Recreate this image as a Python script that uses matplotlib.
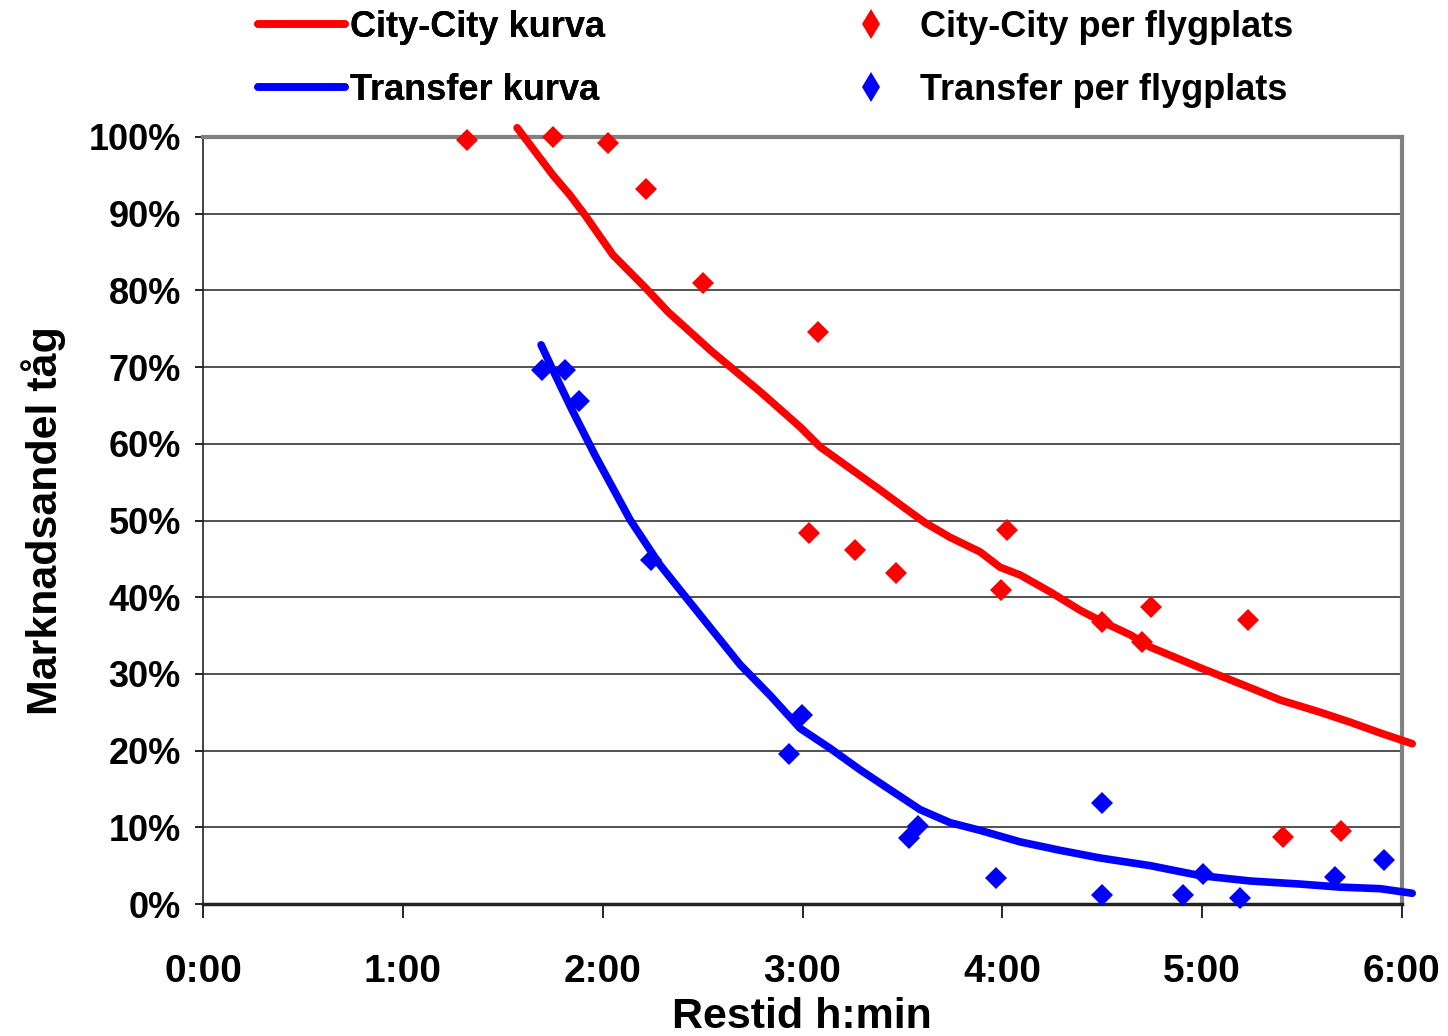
import matplotlib.pyplot as plt
from matplotlib.ticker import FuncFormatter, MultipleLocator
from matplotlib.lines import Line2D

plt.rcParams['font.family'] = ['Liberation Sans', 'DejaVu Sans']
plt.rcParams['font.weight'] = 'bold'
plt.rcParams['axes.labelweight'] = 'bold'

# restid i timmar, marknadsandel i procent
cc_kurva_x = [1.572, 1.752, 1.837, 1.912, 2.052, 2.212, 2.327, 2.548, 2.788, 2.988,
              3.088, 3.388, 3.513, 3.614, 3.739, 3.889, 3.989, 4.089, 4.239, 4.389,
              4.500, 4.640, 4.740, 4.990, 5.240, 5.390, 5.591, 5.741, 5.891, 6.051]
cc_kurva_y = [101.2, 95.0, 92.4, 89.8, 84.6, 80.4, 77.2, 72.0, 66.8, 62.2,
              59.6, 54.0, 51.6, 49.7, 47.8, 45.9, 43.9, 42.9, 40.7, 38.3,
              36.8, 35.1, 33.5, 30.8, 28.2, 26.6, 25.0, 23.7, 22.3, 20.9]

tr_kurva_x = [1.692, 1.762, 1.847, 1.962, 2.137, 2.287, 2.487, 2.688, 2.838, 2.988,
              3.138, 3.288, 3.438, 3.589, 3.739, 3.889, 4.089, 4.289, 4.489, 4.740,
              4.990, 5.240, 5.490, 5.691, 5.891, 6.051]
tr_kurva_y = [72.9, 69.0, 64.4, 58.5, 50.1, 44.2, 37.7, 31.2, 27.2, 22.9,
              20.3, 17.5, 14.9, 12.3, 10.6, 9.6, 8.1, 7.0, 6.0, 5.0,
              3.7, 3.0, 2.6, 2.2, 2.0, 1.4]

cc_punkt_x = [1.321, 1.752, 2.027, 2.217, 2.503, 3.078, 3.033, 3.263, 3.468, 4.024,
              3.994, 4.500, 4.745, 4.700, 5.230, 5.405, 5.696]
cc_punkt_y = [99.6, 100.0, 99.2, 93.2, 81.0, 74.6, 48.4, 46.2, 43.2, 48.8,
              40.9, 36.8, 38.7, 34.2, 37.0, 8.7, 9.5]

tr_punkt_x = [1.697, 1.812, 1.882, 2.242, 2.998, 2.933, 3.534, 3.579, 3.969, 4.500,
              4.500, 4.905, 5.005, 5.190, 5.666, 5.911]
tr_punkt_y = [69.6, 69.6, 65.6, 44.9, 24.6, 19.6, 8.6, 10.2, 3.4, 13.2,
              1.2, 1.2, 3.9, 0.8, 3.5, 5.7]

fig = plt.figure(figsize=(14.48, 10.36), dpi=100)
ax = fig.add_axes([203 / 1448, 1 - 904 / 1036, 1199 / 1448, 767 / 1036])

l1, = ax.plot(cc_kurva_x, cc_kurva_y, color='#ff0000', lw=5.5, solid_capstyle='round',
              clip_on=False, zorder=3, label='City-City kurva')
l2, = ax.plot(tr_kurva_x, tr_kurva_y, color='#0000ff', lw=5.5, solid_capstyle='round',
              clip_on=False, zorder=3, label='Transfer kurva')
ax.plot(cc_punkt_x, cc_punkt_y, 'D', color='#ff0000', ms=11, mew=0,
        clip_on=False, zorder=4)
ax.plot(tr_punkt_x, tr_punkt_y, 'D', color='#0000ff', ms=11, mew=0,
        clip_on=False, zorder=4)

# tunnare romber i förklaringen, som i originalet
p1 = Line2D([], [], ls='none', marker='d', color='#ff0000', ms=15, mew=0,
            label='City-City per flygplats')
p2 = Line2D([], [], ls='none', marker='d', color='#0000ff', ms=15, mew=0,
            label='Transfer per flygplats')

ax.set_xlim(0, 6)
ax.set_ylim(0, 100)
ax.xaxis.set_major_locator(MultipleLocator(1))
ax.yaxis.set_major_locator(MultipleLocator(10))
ax.xaxis.set_major_formatter(FuncFormatter(lambda v, p: '%d:00' % v))
ax.yaxis.set_major_formatter(FuncFormatter(lambda v, p: '%d%%' % v))
ax.grid(axis='y', color='#333333', lw=1.2)
ax.set_axisbelow(True)

ax.spines['top'].set_color('#808080')
ax.spines['top'].set_linewidth(3)
ax.spines['right'].set_color('#808080')
ax.spines['right'].set_linewidth(3)
ax.spines['bottom'].set_color('#222222')
ax.spines['bottom'].set_linewidth(2.5)
ax.spines['left'].set_color('#222222')
ax.spines['left'].set_linewidth(1.2)

ax.tick_params(axis='x', length=10, width=1.2, pad=26, labelsize=28)
ax.tick_params(axis='y', length=6, width=1.2, pad=10, labelsize=26)

ax.set_ylabel('Marknadsandel tåg', fontsize=31, labelpad=16)
fig.text(802 / 1448, 1 - 997 / 1036, 'Restid h:min', fontsize=31,
         ha='center', va='top')

leg1 = fig.legend(handles=[l1, l2], loc='center left', bbox_to_anchor=(258 / 1448, 1 - 59 / 1036),
                  frameon=False, fontsize=26, handlelength=2.4, handletextpad=0.15,
                  labelspacing=0.78, borderpad=0, borderaxespad=0)
leg2 = fig.legend(handles=[p1, p2], loc='center left', bbox_to_anchor=(828 / 1448, 1 - 59 / 1036),
                  frameon=False, fontsize=26, handlelength=2.4, handletextpad=0.15,
                  labelspacing=0.78, borderpad=0, borderaxespad=0)
fig.add_artist(leg1)

plt.savefig('out.png', dpi=100)
